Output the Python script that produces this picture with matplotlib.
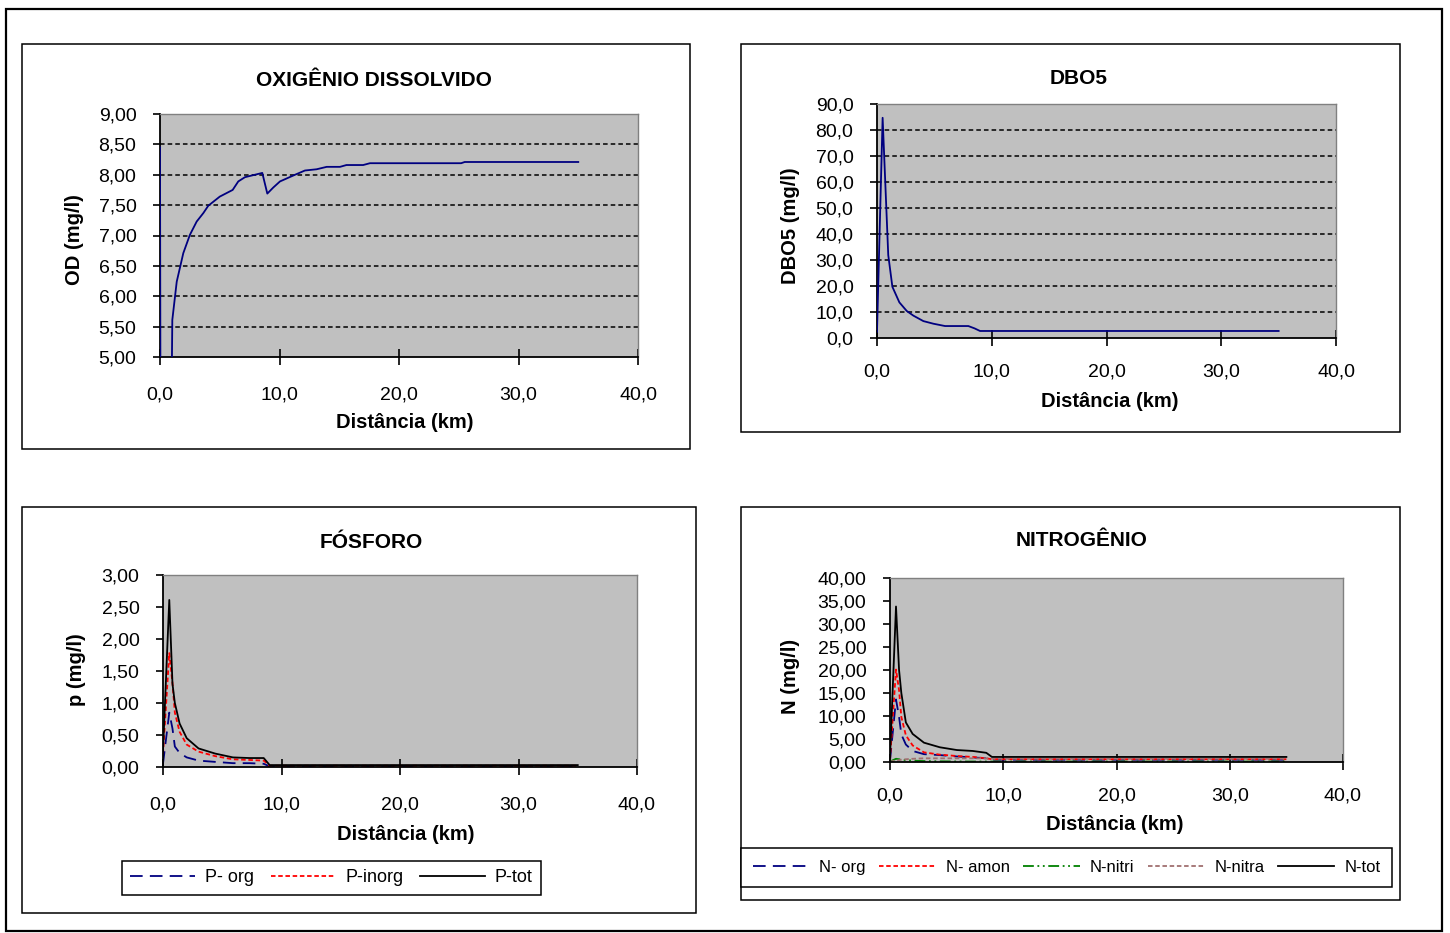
import matplotlib.pyplot as plt
from matplotlib.patches import Rectangle
from matplotlib.ticker import FuncFormatter

plt.rcParams['font.family'] = ['Liberation Sans', 'DejaVu Sans']

# distance (km) and concentrations
od_km = [0.0, 0.05, 0.5, 0.98, 1.03, 1.4, 1.95, 2.5, 3.07, 3.63, 4.04, 5.0, 6.08, 6.55,
         7.11, 8.56, 8.98, 9.48, 10.04, 11.3, 12.13, 13.1, 13.95, 15.06, 15.6, 17.0,
         17.57, 25.2, 25.5, 35.0]
od = [8.45, 3.0, 2.2, 4.6, 5.61, 6.24, 6.71, 7.01, 7.23, 7.37, 7.49, 7.64, 7.75, 7.89,
      7.96, 8.03, 7.69, 7.79, 7.89, 8.00, 8.07, 8.09, 8.13, 8.13, 8.16, 8.16,
      8.19, 8.19, 8.21, 8.21]

dbo_km = [0.0, 0.49, 0.98, 1.34, 1.95, 2.59, 3.17, 4.04, 4.91, 5.93, 7.96, 8.5, 8.98, 35.0]
dbo = [2.4, 84.7, 31.9, 19.7, 13.7, 10.4, 8.6, 6.5, 5.5, 4.6, 4.6, 3.7, 2.7, 2.7]

pn_km = [0.0, 0.53, 0.8, 1.0, 1.4, 2.0, 3.0, 4.4, 5.9, 7.3, 8.5, 9.0, 35.0]
p_org = [0.05, 0.85, 0.6, 0.32, 0.22, 0.15, 0.10, 0.08, 0.06, 0.06, 0.05, 0.01, 0.01]
p_inorg = [0.2, 1.78, 1.31, 0.85, 0.55, 0.35, 0.24, 0.17, 0.12, 0.11, 0.10, 0.02, 0.02]
p_tot = [0.25, 2.61, 1.3, 1.0, 0.68, 0.45, 0.29, 0.21, 0.15, 0.14, 0.14, 0.03, 0.03]

n_org = [0.3, 13.6, 9.8, 6.0, 3.8, 2.4, 1.7, 1.5, 1.2, 1.0, 0.8, 0.5, 0.5]
n_amon = [0.5, 20.1, 15.6, 9.8, 5.8, 3.6, 2.1, 1.6, 1.3, 1.1, 0.8, 0.6, 0.6]
n_nitri = [0.1, 0.7, 0.6, 0.5, 0.4, 0.3, 0.2, 0.15, 0.12, 0.1, 0.1, 0.1, 0.1]
n_nitra = [0.1, 0.3, 0.4, 0.5, 0.6, 0.7, 0.8, 0.8, 0.8, 0.8, 0.8, 0.7, 0.7]
n_tot = [1.0, 33.8, 20.0, 15.0, 8.6, 6.1, 4.2, 3.2, 2.6, 2.4, 2.0, 1.1, 1.1]

x_ticks = [0, 10, 20, 30, 40]
od_ticks = [5.0, 5.5, 6.0, 6.5, 7.0, 7.5, 8.0, 8.5, 9.0]
dbo_ticks = [0, 10, 20, 30, 40, 50, 60, 70, 80, 90]
p_ticks = [0.0, 0.5, 1.0, 1.5, 2.0, 2.5, 3.0]
n_ticks = [0, 5, 10, 15, 20, 25, 30, 35, 40]

W, H = 1450, 933
fig = plt.figure(figsize=(14.5, 9.33), dpi=100)


def fx(x):
    return x / W


def fy(y):
    return 1 - y / H


def box(x0, y0, x1, y1, lw=1.1):
    fig.patches.append(Rectangle((fx(x0), fy(y1)), fx(x1) - fx(x0), fy(y0) - fy(y1),
                                 transform=fig.transFigure, fill=False,
                                 edgecolor='black', linewidth=lw))


def comma(dec):
    return FuncFormatter(lambda v, pos: f"{v:.{dec}f}".replace('.', ','))


def make_ax(l, t, r, b, yticks, ydec, grid, xpad):
    ax = fig.add_axes([fx(l), fy(b), fx(r) - fx(l), fy(t) - fy(b)])
    ax.set_facecolor('#C0C0C0')
    ax.set_xlim(0, 40)
    ax.set_ylim(yticks[0], yticks[-1])
    ax.set_xticks(x_ticks)
    ax.set_yticks(yticks)
    ax.xaxis.set_major_formatter(comma(1))
    ax.yaxis.set_major_formatter(comma(ydec))
    ax.tick_params(axis='x', direction='inout', length=12, width=1.2, pad=xpad, labelsize=14)
    ax.tick_params(axis='y', direction='out', length=5, width=1.2, pad=12, labelsize=14)
    for s in ['top', 'right']:
        ax.spines[s].set_color('#808080')
        ax.spines[s].set_linewidth(1.0)
    for s in ['left', 'bottom']:
        ax.spines[s].set_linewidth(1.3)
    if grid:
        for v in yticks[1:-1]:
            ax.axhline(v, color='black', linestyle=(0, (3, 2)), linewidth=1.1, zorder=1)
    return ax


# outer frame and panel frames
box(6, 9, 1442, 931, lw=1.6)
box(22, 44, 690, 449)
box(741, 44, 1400, 432)
box(22, 507, 696, 913)
box(741, 507, 1400, 900)

navy = '#000080'

# Oxigênio dissolvido
ax1 = make_ax(160, 114, 638, 357, od_ticks, 2, True, 15)
ax1.plot(od_km, od, color=navy, linewidth=1.3, zorder=3)

# DBO5
ax2 = make_ax(877, 104, 1336, 338, dbo_ticks, 1, True, 12)
ax2.plot(dbo_km, dbo, color=navy, linewidth=1.3, zorder=3)

# Fósforo
ax3 = make_ax(163, 575, 637, 767, p_ticks, 2, False, 15.5)
ax3.plot(pn_km, p_org, color=navy, linewidth=1.3, linestyle=(0, (7, 4)), label='P- org')
ax3.plot(pn_km, p_inorg, color='red', linewidth=1.3, linestyle=(0, (2.5, 1.5)), label='P-inorg')
ax3.plot(pn_km, p_tot, color='black', linewidth=1.3, label='P-tot')

# Nitrogênio
ax4 = make_ax(890, 578, 1343, 762, n_ticks, 2, False, 12.5)
ax4.plot(pn_km, n_org, color=navy, linewidth=1.3, linestyle=(0, (7, 4)), label='N- org')
ax4.plot(pn_km, n_amon, color='red', linewidth=1.3, linestyle=(0, (2.5, 1.5)), label='N- amon')
ax4.plot(pn_km, n_nitri, color='#008000', linewidth=1.3, linestyle=(0, (6, 2, 1, 2, 1, 2)), label='N-nitri')
ax4.plot(pn_km, n_nitra, color='#A07070', linewidth=1.3, linestyle=(0, (2.5, 1.5)), label='N-nitra')
ax4.plot(pn_km, n_tot, color='black', linewidth=1.3, label='N-tot')

# titles and axis labels
titles = [('OXIGÊNIO DISSOLVIDO', 374, 80), ('DBO5', 1079, 78),
          ('FÓSFORO', 371, 543), ('NITROGÊNIO', 1082, 541)]
for t, x, y in titles:
    fig.text(fx(x), fy(y), t, ha='center', va='center', fontsize=15, fontweight='bold')

for x, y in [(405, 422), (1110, 401), (406, 835), (1115, 825)]:
    fig.text(fx(x), fy(y), 'Distância (km)', ha='center', va='center',
             fontsize=14.5, fontweight='bold')

ylabels = [('OD (mg/l)', 75, 240), ('DBO5 (mg/l)', 790, 226),
           ('p (mg/l)', 76, 670), ('N (mg/l)', 790, 676)]
for t, x, y in ylabels:
    fig.text(fx(x), fy(y), t, ha='center', va='center', rotation=90,
             fontsize=14.5, fontweight='bold')

# legends
leg3 = fig.legend(*ax3.get_legend_handles_labels(), loc='center',
                  bbox_to_anchor=(fx(331.5), fy(878)), ncol=3, fontsize=13,
                  handlelength=3.6, columnspacing=0.9, handletextpad=0.55,
                  fancybox=False, edgecolor='black', framealpha=1, borderpad=0.45)
leg3.get_frame().set_linewidth(1.1)

leg4 = fig.legend(*ax4.get_legend_handles_labels(), loc='center',
                  bbox_to_anchor=(fx(1066.5), fy(867.5)), ncol=5, fontsize=12,
                  handlelength=3.4, columnspacing=0.8, handletextpad=0.6,
                  fancybox=False, edgecolor='black', framealpha=1, borderpad=0.7)
leg4.get_frame().set_linewidth(1.1)

fig.savefig('out.png', dpi=100)
